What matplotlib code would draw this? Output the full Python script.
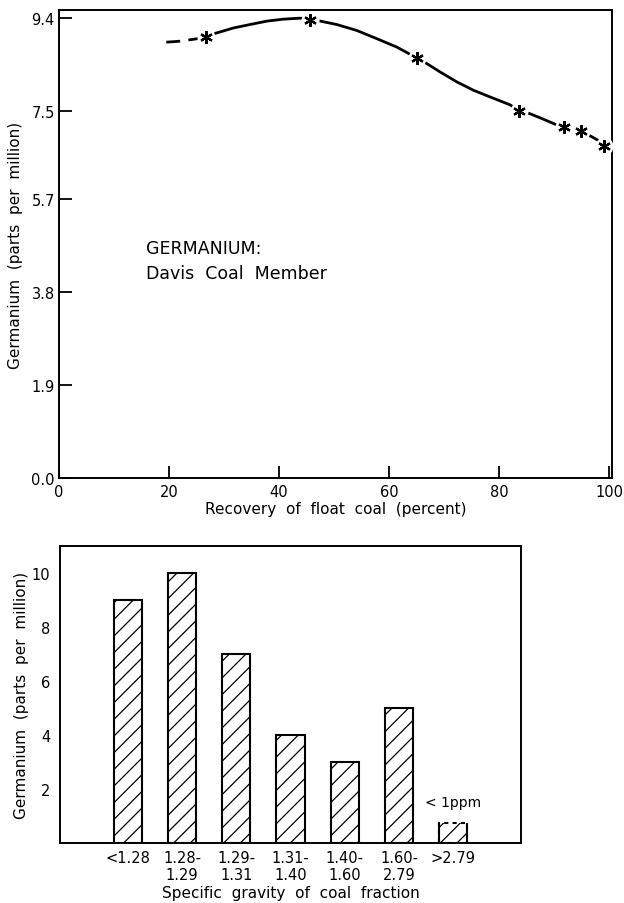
import matplotlib
matplotlib.use('Agg')
import matplotlib.pyplot as plt

plt.rcParams['font.family'] = ['DejaVu Sans']
plt.rcParams['hatch.linewidth'] = 0.9

# germanium vs. cumulative float-coal recovery (sample points)
rec_x = [26.8, 45.6, 65.0, 83.6, 91.8, 94.9, 99.1]
rec_y = [9.00, 9.36, 8.58, 7.50, 7.17, 7.09, 6.78]

# hand-drawn trend line through the samples
trend_x = [19.5, 22.0, 24.5, 26.8, 28.4, 31.7, 34.7, 37.8, 40.8, 43.8, 45.6,
           47.5, 50.5, 54.1, 57.8, 61.4, 65.0, 66.9, 69.3, 72.3, 75.3, 78.4,
           82.0, 83.6, 85.6, 88.0, 90.5, 91.8, 93.4, 94.9, 96.5, 98.1, 99.1]
trend_y = [8.90, 8.92, 8.96, 9.00, 9.08, 9.19, 9.26, 9.33, 9.37, 9.39, 9.37,
           9.33, 9.26, 9.14, 8.97, 8.80, 8.58, 8.46, 8.29, 8.09, 7.92, 7.78,
           7.62, 7.50, 7.44, 7.33, 7.21, 7.17, 7.12, 7.09, 6.99, 6.89, 6.78]
n_dashed = 4   # segment before the first sample is dashed

top_yticks = [0.0, 1.9, 3.8, 5.7, 7.5, 9.4]
top_xticks = [0, 20, 40, 60, 80, 100]

# germanium by specific gravity fraction
sg_labels = ['<1.28', '1.28-\n1.29', '1.29-\n1.31', '1.31-\n1.40',
             '1.40-\n1.60', '1.60-\n2.79', '>2.79']
sg_ge = [9, 10, 7, 4, 3, 5, 0.75]
bot_yticks = [2, 4, 6, 8, 10]

fig = plt.figure(figsize=(6.24, 9.04), dpi=100)

# --- top panel: recovery curve ---
ax1 = fig.add_axes([0.0946, 0.470, 0.886, 0.518])
ax1.plot(trend_x[:n_dashed], trend_y[:n_dashed], color='black', lw=2.0,
         dashes=(5, 3), solid_capstyle='butt', zorder=2)
ax1.plot(trend_x[n_dashed - 1:], trend_y[n_dashed - 1:], color='black', lw=2.0,
         solid_joinstyle='round', zorder=2)
# white halo behind each asterisk breaks the line
ax1.plot(rec_x, rec_y, ls='none', marker='o', ms=13, mfc='white', mec='none',
         zorder=3)
ax1.plot(rec_x, rec_y, ls='none', marker=(6, 2, 0), ms=9, mew=1.6,
         color='black', zorder=4)

ax1.set_xlim(0, 100.5)
ax1.set_ylim(0, 9.56)
ax1.set_xticks(top_xticks)
ax1.set_yticks(top_yticks)
ax1.set_yticklabels(['%.1f' % v for v in top_yticks])
ax1.tick_params(direction='in', length=9, width=1.3, labelsize=10.5)
ax1.tick_params(axis='x', pad=4)
ax1.tick_params(axis='y', pad=3)
ax1.set_xlabel('Recovery  of  float  coal  (percent)', fontsize=11, labelpad=2)
ax1.set_ylabel('Germanium  (parts  per  million)', fontsize=11, labelpad=6)
for s in ax1.spines.values():
    s.set_linewidth(1.4)

ax1.text(15.8, 4.45, 'GERMANIUM:\nDavis  Coal  Member', fontsize=12.5,
         ha='left', va='center', linespacing=1.5)

# --- bottom panel: bar chart ---
ax2 = fig.add_axes([0.0962, 0.0664, 0.739, 0.3285])
pos = list(range(len(sg_ge)))
bars = ax2.bar(pos, sg_ge, width=0.52, color='white', edgecolor='black',
               linewidth=1.5, hatch='//')
# last fraction is below detection: dashed top, solid sides
last = bars[-1]
last.set_linestyle((0, (2, 2)))
ax2.vlines([last.get_x(), last.get_x() + last.get_width()], 0,
           last.get_height(), color='black', lw=1.5)
ax2.text(pos[-1], sg_ge[-1] + 0.75, '< 1ppm', ha='center', va='center',
         fontsize=10)

ax2.set_xlim(-1.25, 7.25)
ax2.set_ylim(0, 11.0)
ax2.set_xticks(pos)
ax2.set_xticklabels(sg_labels, linespacing=1.2)
ax2.set_yticks(bot_yticks)
ax2.tick_params(length=0, labelsize=10.5)
ax2.tick_params(axis='x', pad=5)
ax2.tick_params(axis='y', pad=7)
ax2.set_xlabel('Specific  gravity  of  coal  fraction', fontsize=11, labelpad=2)
ax2.set_ylabel('Germanium  (parts  per  million)', fontsize=11, labelpad=2)
for s in ax2.spines.values():
    s.set_linewidth(1.4)

fig.savefig('out.png', dpi=100)
